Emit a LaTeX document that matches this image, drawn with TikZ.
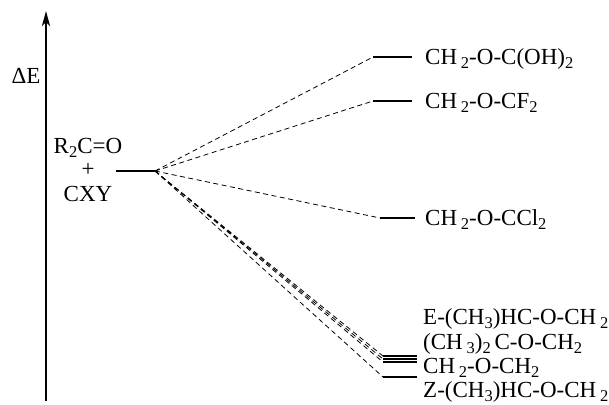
\documentclass[tikz,border=0pt]{standalone}
\usepackage{fontspec}
\setmainfont{Liberation Serif}
\usetikzlibrary{arrows.meta}
% chemical subscript: smaller digit set below the baseline
\newcommand{\chs}[1]{\raisebox{-4.5pt}{\fontsize{16.5}{16.5}\selectfont #1}}
\begin{document}
\begin{tikzpicture}[x=1pt, y=-1pt,
  lbl/.style={font=\fontsize{23}{26}\selectfont, inner sep=0pt, anchor=base west},
  lblc/.style={font=\fontsize{23}{26}\selectfont, inner sep=0pt, anchor=base},
  level/.style={line width=1.1pt},
  thicklevel/.style={line width=2pt},
  path/.style={line width=0.8pt, dash pattern=on 5pt off 3.5pt},
  axis/.style={line width=2.6pt, -{Stealth[length=15pt, width=8pt, inset=4pt]}}]
\useasboundingbox (0,0) rectangle (609,404);

% energy axis
\coordinate (ax0) at (46,401);
\coordinate (ax1) at (46,11);
\draw[axis] (ax0) -- (ax1);
\node[lblc] (dE) at (26,83) {ΔE};

% reactants
\node[lblc] (react1) at (88,153) {R\chs{2}C=O};
\node[lblc] (react2) at (88,176) {+};
\node[lblc] (react3) at (88,201) {CXY};
\coordinate (r0) at (116,171);
\coordinate (r1) at (155,171);
\draw[level] (r0) -- (r1);

% product levels
\coordinate (p1a) at (373,57);  \coordinate (p1b) at (412,57);
\coordinate (p2a) at (373,101); \coordinate (p2b) at (412,101);
\coordinate (p3a) at (380,218); \coordinate (p3b) at (415,218);
\coordinate (p4a) at (383,356); \coordinate (p4b) at (417,356);
\coordinate (p5a) at (383,359); \coordinate (p5b) at (417,359);
\coordinate (p6a) at (383,362); \coordinate (p6b) at (417,362);
\coordinate (p7a) at (383,377); \coordinate (p7b) at (417,377);

\draw[level] (p1a) -- (p1b);
\draw[level] (p2a) -- (p2b);
\draw[thicklevel] (p3a) -- (p3b);
\draw[level] (p4a) -- (p4b);
\draw[level] (p5a) -- (p5b);
\draw[level] (p6a) -- (p6b);
\draw[level] (p7a) -- (p7b);

% reaction paths
\foreach \p in {p1a,p2a,p3a,p4a,p5a,p6a,p7a}
  \draw[path] (r1) -- (\p);

% product labels
\node[lbl] (t1) at (425,64)  {CH\,\chs{2}-O-C(OH)\chs{2}};
\node[lbl] (t2) at (425,108) {CH\,\chs{2}-O-CF\chs{2}};
\node[lbl] (t3) at (425,225) {CH\,\chs{2}-O-CCl\chs{2}};
\node[lbl] (t4) at (423,324) {E-(CH\chs{3})HC-O-CH\,\chs{2}};
\node[lbl] (t5) at (423,349) {(CH\,\chs{3})\chs{2}\,C-O-CH\chs{2}};
\node[lbl] (t6) at (423,373) {CH\,\chs{2}-O-CH\chs{2}};
\node[lbl] (t7) at (423,397) {Z-(CH\chs{3})HC-O-CH\,\chs{2}};
\end{tikzpicture}
\end{document}
